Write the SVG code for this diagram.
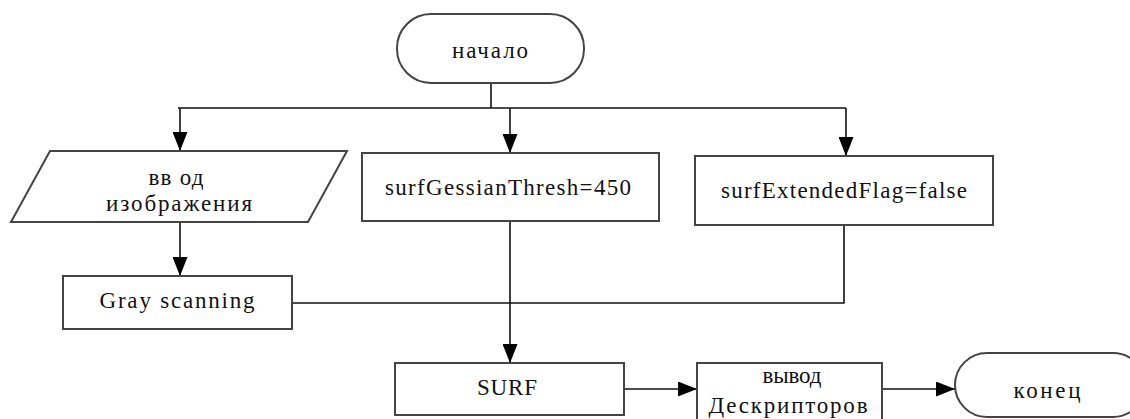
<svg xmlns="http://www.w3.org/2000/svg" width="1130" height="419" viewBox="0 0 1130 419">
<style>
.n{fill:#fff;stroke:#444;stroke-width:2}
.t{font-family:"Liberation Serif",serif;font-size:23px;fill:#111;text-anchor:middle}
.c{fill:none;stroke:#111;stroke-width:1.6}
</style>
<defs>
<marker id="b" markerWidth="19" markerHeight="15" refX="19" refY="7.5" orient="auto" markerUnits="userSpaceOnUse">
<path d="M0,0 L19,7.5 L0,15 Z" fill="#000"/>
</marker>
</defs>
<rect width="1130" height="419" fill="#fff"/>
<g id="connectors">
<path class="c" d="M491,83 V108" stroke-width="2.5"/>
<path class="c" d="M178,108 H846"/>
<path class="c" d="M180,108 V151" marker-end="url(#b)"/>
<path class="c" d="M510,108 V153" marker-end="url(#b)"/>
<path class="c" d="M846,108 V156" marker-end="url(#b)"/>
<path class="c" d="M180,222 V276" marker-end="url(#b)"/>
<path class="c" d="M292,303 H844 V225"/>
<path class="c" d="M510,221 V363" stroke-width="2.2" marker-end="url(#b)"/>
<path class="c" d="M624,389 H697" marker-end="url(#b)"/>
<path class="c" d="M882,389 H955" marker-end="url(#b)"/>
</g>
<g id="start">
<rect class="n" x="397" y="14" width="187" height="69" rx="34" ry="34"/>
<text class="t" x="490" y="58" textLength="76" lengthAdjust="spacing">начало</text>
</g>
<g id="input">
<polygon class="n" points="50,151 347,151 308,222 11,222"/>
<text class="t" x="176" y="185" textLength="55" lengthAdjust="spacing">вв од</text>
<text class="t" x="179" y="211" textLength="146" lengthAdjust="spacing">изображения</text>
</g>
<g id="hessian">
<rect class="n" x="362" y="153" width="297" height="68"/>
<text class="t" x="508" y="195" textLength="246" lengthAdjust="spacing">surfGessianThresh=450</text>
</g>
<g id="extended">
<rect class="n" x="695" y="156" width="298" height="69"/>
<text class="t" x="844" y="198" textLength="246" lengthAdjust="spacing">surfExtendedFlag=false</text>
</g>
<g id="gray">
<rect class="n" x="63" y="276" width="229" height="53"/>
<text class="t" x="177" y="308" textLength="155" lengthAdjust="spacing">Gray scanning</text>
</g>
<g id="surf">
<rect class="n" x="395" y="363" width="229" height="52"/>
<text class="t" x="507" y="395" textLength="60" lengthAdjust="spacing">SURF</text>
</g>
<g id="output">
<rect class="n" x="697" y="363" width="185" height="60"/>
<text class="t" x="792" y="383" textLength="59" lengthAdjust="spacing">вывод</text>
<text class="t" x="788" y="413" textLength="159" lengthAdjust="spacing">Дескрипторов</text>
</g>
<g id="end">
<rect class="n" x="955" y="353" width="190" height="64" rx="32" ry="32"/>
<text class="t" x="1047" y="398" textLength="67" lengthAdjust="spacing">конец</text>
</g>
</svg>
